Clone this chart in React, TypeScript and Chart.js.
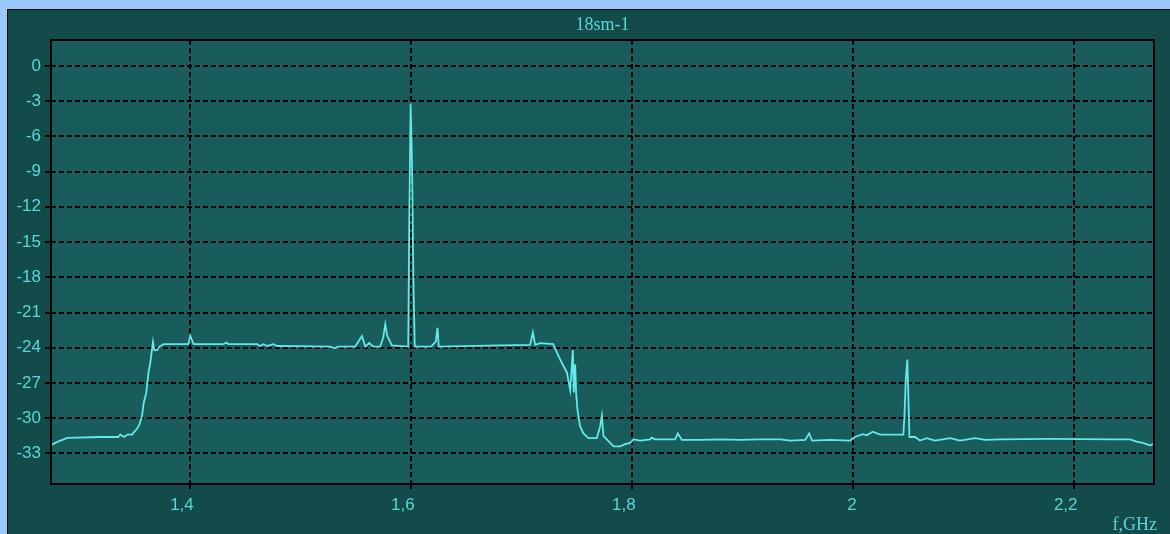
import React, { useEffect, useRef } from "react";
import { Chart, registerables } from "chart.js";

Chart.register(...registerables);

const chartTitle = "18sm-1";
const xAxisTitle = "f,GHz";

const xTickValues = [1.4, 1.6, 1.8, 2, 2.2];
const yTickValues = [0, -3, -6, -9, -12, -15, -18, -21, -24, -27, -30, -33];

const freqGHz = [
  1.2739, 1.2779, 1.2825, 1.2887, 1.3186, 1.3348, 1.3367, 1.3403, 1.343, 1.3475,
  1.3484, 1.3518, 1.3541, 1.3563, 1.3578, 1.3602, 1.3623, 1.3638, 1.3647, 1.3662,
  1.3674, 1.3699, 1.3722, 1.3758, 1.3982, 1.4, 1.403, 1.4299, 1.4326, 1.4347,
  1.4606, 1.4633, 1.4661, 1.4697, 1.4751, 1.4787, 1.5267, 1.5303, 1.5339, 1.5493,
  1.5554, 1.5584, 1.562, 1.5656, 1.5719, 1.5747, 1.5765, 1.5783, 1.5825, 1.5973,
  1.5982, 1.5995, 1.6007, 1.602, 1.6032, 1.6181, 1.6208, 1.6222, 1.6238, 1.6249,
  1.6805, 1.7077, 1.7101, 1.7122, 1.7167, 1.7285, 1.7318, 1.7364, 1.7409, 1.7439,
  1.7448, 1.7463, 1.7471, 1.7484, 1.7493, 1.7505, 1.7529, 1.7559, 1.7605, 1.768,
  1.771, 1.7726, 1.774, 1.7771, 1.7831, 1.7891, 1.7937, 1.7982, 1.8012, 1.8072,
  1.8163, 1.8178, 1.8208, 1.8389, 1.8413, 1.845, 1.8615, 1.8796, 1.8977, 1.9158,
  1.9339, 1.943, 1.9566, 1.9602, 1.9629, 1.9792, 1.9973, 2.0016, 2.0088, 2.0124,
  2.0178, 2.0244, 2.0455, 2.0464, 2.0477, 2.0491, 2.0501, 2.051, 2.0561, 2.0606,
  2.0667, 2.0742, 2.0878, 2.0968, 2.1104, 2.1195, 2.133, 2.1783, 2.2353, 2.2507,
  2.2567, 2.2624, 2.2688, 2.2715,
];

const levelDb = [
  -32.3, -32.1, -31.9, -31.67, -31.6, -31.6, -31.4, -31.6, -31.4, -31.4,
  -31.25, -30.9, -30.5, -29.8, -28.7, -27.8, -26.0, -25.3, -24.6, -23.5,
  -24.2, -24.2, -23.9, -23.7, -23.7, -23.0, -23.7, -23.7, -23.55, -23.7,
  -23.7, -23.85, -23.7, -23.85, -23.7, -23.85, -23.9, -24.05, -23.9, -23.9,
  -23.0, -23.9, -23.6, -23.9, -23.9, -23.1, -22.0, -23.0, -23.8, -23.9,
  -13.4, -3.2, -8.4, -18.5, -23.9, -23.9, -23.6, -23.5, -22.3, -23.9,
  -23.8, -23.75, -22.7, -23.75, -23.6, -23.7, -24.4, -25.3, -26.1, -27.6,
  -26.4, -24.2, -27.8, -25.4, -27.9, -29.3, -30.7, -31.3, -31.7, -31.7,
  -30.7, -29.8, -31.5, -31.8, -32.4, -32.4, -32.2, -32.1, -31.8, -31.9,
  -31.8, -31.65, -31.8, -31.8, -31.3, -31.85, -31.85, -31.8, -31.85, -31.8,
  -31.8, -31.9, -31.85, -31.3, -31.9, -31.85, -31.9, -31.6, -31.35, -31.45,
  -31.15, -31.4, -31.4, -30.0, -26.7, -25.0, -28.4, -31.6, -31.6, -31.9,
  -31.7, -31.9, -31.7, -31.9, -31.7, -31.85, -31.8, -31.75, -31.8, -31.8,
  -32.0, -32.1, -32.3, -32.2,
];

const PAGE_BG = "#99c8f9";
const PANEL_BG = "#134b4b";
const PLOT_BG = "#185c5c";
const TEXT_COLOR = "#5cd6d6";
const LINE_COLOR = "#66e8e8";

const fmt = (v: number) => String(v).replace(".", ",");

export default function App() {
  const canvasRef = useRef<HTMLCanvasElement | null>(null);

  useEffect(() => {
    const canvas = canvasRef.current;
    if (!canvas) return;

    const decor = {
      id: "decor",
      beforeDraw(chart: any) {
        const { ctx, chartArea: a } = chart;
        ctx.save();
        ctx.fillStyle = PLOT_BG;
        ctx.fillRect(a.left, a.top, a.right - a.left, a.bottom - a.top);
        ctx.restore();
      },
      afterDraw(chart: any) {
        const { ctx, chartArea: a } = chart;
        ctx.save();
        ctx.strokeStyle = "#000";
        ctx.lineWidth = 2;
        ctx.strokeRect(a.left, a.top, a.right - a.left, a.bottom - a.top);
        ctx.fillStyle = TEXT_COLOR;
        ctx.font = "18px 'Liberation Serif', serif";
        ctx.textAlign = "center";
        ctx.textBaseline = "alphabetic";
        ctx.fillText(chartTitle, (a.left + a.right) / 2, 20);
        ctx.textAlign = "right";
        ctx.fillText(xAxisTitle, a.right + 3, 520);
        ctx.restore();
      },
    };

    const chart = new Chart(canvas, {
      type: "line",
      data: {
        datasets: [
          {
            data: freqGHz.map((f, i) => ({ x: f, y: levelDb[i] })),
            borderColor: LINE_COLOR,
            borderWidth: 1.8,
            pointRadius: 0,
            tension: 0,
            fill: false,
          },
        ],
      },
      options: {
        animation: false,
        responsive: false,
        maintainAspectRatio: false,
        layout: { padding: { top: 30, right: 16, left: 0, bottom: 0 } },
        plugins: {
          legend: { display: false },
          title: { display: false },
          tooltip: { enabled: false },
        },
        scales: {
          x: {
            type: "linear",
            min: 1.2739,
            max: 2.2724,
            afterFit: (s: any) => {
              s.height = 50;
            },
            afterBuildTicks: (s: any) => {
              s.ticks = xTickValues.map((v) => ({ value: v }));
            },
            grid: {
              color: "#000",
              lineWidth: 2,
              drawTicks: true,
              tickLength: 6,
              tickColor: "#000",
              tickBorderDash: [5, 3],
            },
            border: { display: false, dash: [5, 3] },
            ticks: {
              color: TEXT_COLOR,
              font: { family: "'Liberation Sans', sans-serif", size: 17 },
              padding: 5,
              align: "end",
              labelOffset: 3.5,
              maxRotation: 0,
              autoSkip: false,
              callback: (v: any) => fmt(Number(v)),
            },
          },
          y: {
            type: "linear",
            min: -35.6,
            max: 2.2,
            afterFit: (s: any) => {
              s.width = 43;
            },
            afterBuildTicks: (s: any) => {
              s.ticks = yTickValues.map((v) => ({ value: v }));
            },
            grid: {
              color: "#000",
              lineWidth: 2,
              drawTicks: true,
              tickLength: 6,
              tickColor: "#000",
              tickBorderDash: [5, 3],
            },
            border: { display: false, dash: [5, 3] },
            ticks: {
              color: TEXT_COLOR,
              font: { family: "'Liberation Sans', sans-serif", size: 17 },
              padding: 4,
              autoSkip: false,
              callback: (v: any) => fmt(Number(v)),
            },
          },
        },
      },
      plugins: [decor],
    } as any);

    return () => chart.destroy();
  }, []);

  return (
    <div
      style={{
        position: "fixed",
        left: 0,
        top: 0,
        right: 0,
        bottom: 0,
        background: PAGE_BG,
        overflow: "hidden",
      }}
    >
      <div
        style={{
          position: "absolute",
          left: 7,
          top: 9,
          right: -20,
          bottom: -20,
          background: PANEL_BG,
          borderLeft: "1px solid #000",
          borderTop: "1px solid #000",
        }}
      >
        <canvas
          ref={canvasRef}
          width={1162}
          height={524}
          style={{ position: "absolute", left: 0, top: 0, width: 1162, height: 524 }}
        />
      </div>
    </div>
  );
}
